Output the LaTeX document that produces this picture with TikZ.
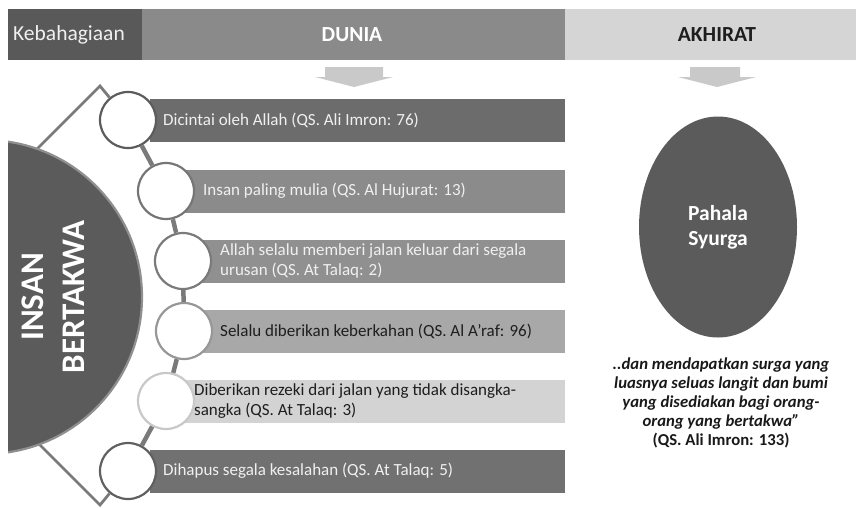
\documentclass[tikz,border=0pt]{standalone}
\usepackage{fontspec}
\setmainfont{Carlito}
\usetikzlibrary{shapes.geometric}
\definecolor{hdark}{HTML}{595959}
\definecolor{hmid}{HTML}{8A8A8A}
\definecolor{hlight}{HTML}{D5D5D5}
\definecolor{arrowc}{HTML}{C9C9C9}
\definecolor{barA}{HTML}{6C6C6C}
\definecolor{barB}{HTML}{8B8B8B}
\definecolor{barC}{HTML}{909090}
\definecolor{barD}{HTML}{A8A8A8}
\definecolor{barE}{HTML}{D3D3D3}
\definecolor{barF}{HTML}{717171}
\definecolor{bigc}{HTML}{5B5B5B}
\definecolor{rimc}{HTML}{8F8F8F}
\definecolor{linec}{HTML}{7A7A7A}
\definecolor{darktext}{HTML}{1E1E1E}
\begin{document}
\begin{tikzpicture}[x=1pt,y=-1pt,
  hdrbox/.style={anchor=north west, minimum height=51pt, inner sep=0pt, draw=none},
  barbox/.style={anchor=west, minimum height=43pt, inner sep=0pt, draw=none},
  bartext/.style={anchor=west, align=left, inner sep=0pt, font=\fontsize{17}{20}\selectfont},
  bead/.style={circle, fill=white, draw=#1, line width=2.2pt, minimum size=56pt, inner sep=0pt},
  conn/.style={draw=linec, line width=4.5pt},
  diam/.style={draw=linec, line width=2.8pt},
  downarrow/.style={fill=arrowc, draw=none}]
\useasboundingbox (0,0) rectangle (856,507);

% header
\node[hdrbox, fill=hdark, minimum width=134pt] (kebox) at (8,9) {};
\node[anchor=west, text=white!94!black, font=\fontsize{21.5}{25}\selectfont, inner sep=0pt] (keb) at (13,35) {Kebahagiaan};
\node[hdrbox, fill=hmid, minimum width=423pt] (dunbox) at (142,9) {};
\node[text=white, font=\bfseries\fontsize{21.5}{25}\selectfont, inner sep=0pt] (dunia) at (352,35) {DUNIA};
\node[hdrbox, fill=hlight, minimum width=291pt] (akbox) at (565,9) {};
\node[text=darktext, font=\bfseries\fontsize{21.5}{25}\selectfont, inner sep=0pt] (akhirat) at (717,35) {AKHIRAT};

% arrows
\fill[downarrow] (325,67) -- (383,67) -- (383,77) -- (393,77) -- (354,87) -- (315,77) -- (325,77) -- cycle;
\fill[downarrow] (690,67) -- (740,67) -- (740,77) -- (756,77) -- (717,87) -- (678,77) -- (690,77) -- cycle;

% bars
\node[barbox, fill=barA, minimum width=415pt] (b1) at (150,120) {};
\node[barbox, fill=barB, minimum width=380pt] (b2) at (185,191) {};
\node[barbox, fill=barC, minimum width=363pt] (b3) at (202,261) {};
\node[barbox, fill=barD, minimum width=363pt] (b4) at (202,331) {};
\node[barbox, fill=barE, minimum width=380pt] (b5) at (185,401) {};
\node[barbox, fill=barF, minimum width=415pt] (b6) at (150,471) {};

\node[bartext, text=white!94!black] (t1) at (163,120) {Dicintai oleh Allah (QS. Ali Imron: 76)};
\node[bartext, text=white!94!black] (t2) at (203,191) {Insan paling mulia (QS. Al Hujurat: 13)};
\node[bartext, text=white!94!black] (t3) at (220,261) {Allah selalu memberi jalan keluar dari segala\\urusan (QS. At Talaq: 2)};
\node[bartext, text=darktext] (t4) at (220,331) {Selalu diberikan keberkahan (QS. Al A’raf: 96)};
\node[bartext, text=darktext] (t5) at (194,401) {Diberikan rezeki dari jalan yang tidak disangka-\\sangka (QS. At Talaq: 3)};
\node[bartext, text=white!94!black] (t6) at (163,471) {Dihapus segala kesalahan (QS. At Talaq: 5)};

% beads
\node[bead=barA!85!black] (c1) at (128,120) {};
\node[bead=barB!85!black] (c2) at (166,191) {};
\node[bead=barC!85!black] (c3) at (183,261) {};
\node[bead=barD!90!black] (c4) at (184,331) {};
\node[bead=barE!95!black] (c5) at (166,401) {};
\node[bead=barF!85!black] (c6) at (128,471) {};

% frame lines
\coordinate (topapex) at (100,86);
\coordinate (botapex) at (100,505);
\coordinate (tl) at (20,166);
\coordinate (bl) at (20,425);
\draw[diam, line join=miter] (tl) -- (topapex) -- (c1);
\draw[diam, line join=miter] (bl) -- (botapex) -- (c6);
\draw[conn] (c1) -- (c2);
\draw[conn] (c2) -- (c3);
\draw[conn] (c3) -- (c4);
\draw[conn] (c4) -- (c5);
\draw[conn] (c5) -- (c6);

% big half circle
\begin{scope}
\clip (8,0) rectangle (856,507);
\node[circle, fill=bigc, draw=rimc, line width=2.2pt, minimum size=314pt, inner sep=0pt] (insan) at (-15,297) {};
\end{scope}
\node[rotate=90, text=white, align=center, inner sep=0pt, font=\bfseries\fontsize{33}{41}\selectfont] (insantext) at (53,297) {INSAN\\BERTAKWA};

% akhirat
\node[ellipse, fill=bigc, minimum width=158pt, minimum height=221pt, inner sep=0pt, text=white, align=center, font=\bfseries\fontsize{21.5}{25}\selectfont] (pahala) at (718,227) {Pahala\\Syurga};
\node[align=center, text=black!90, inner sep=0pt, font=\bfseries\fontsize{16.7}{19}\selectfont] (quote) at (721,403) {\textit{..dan mendapatkan surga yang}\\\textit{luasnya seluas langit dan bumi}\\\textit{yang disediakan bagi orang-}\\\textit{orang yang bertakwa”}\\(QS. Ali Imron: 133)};
\end{tikzpicture}
\end{document}
